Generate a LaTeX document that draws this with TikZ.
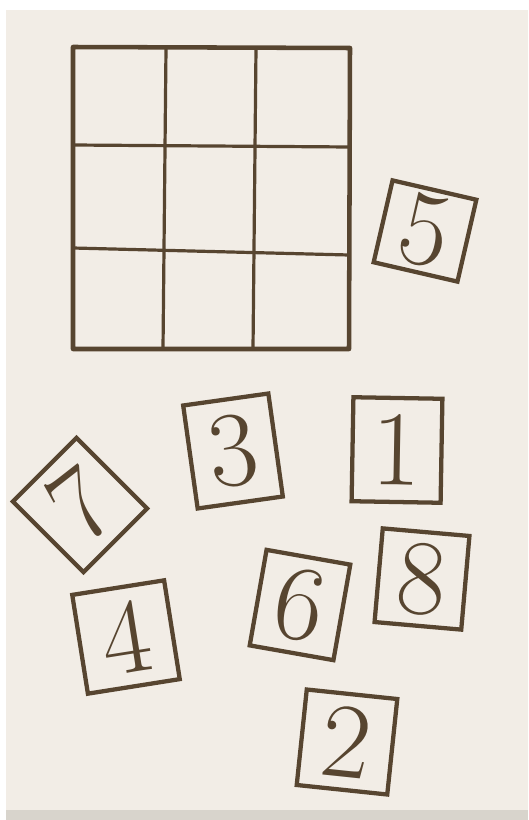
\documentclass[tikz,border=0pt]{standalone}
\definecolor{inkc}{HTML}{574530}
\definecolor{paper}{HTML}{F2EDE6}
\definecolor{strip}{HTML}{D8D4CC}
\begin{document}
\begin{tikzpicture}[x=0.75pt,y=-0.75pt,
  outerline/.style={draw=inkc, line width=3.4pt, line join=round, line cap=round},
  innerline/.style={draw=inkc, line width=2.4pt, line cap=round},
  digitfont/.style={text=inkc, font=\fontsize{80}{80}\selectfont},
  tile/.style={draw=inkc, line width=3.2pt, rectangle, inner sep=0pt, digitfont},
  tsz/.style 2 args={minimum width=#1*0.75pt, minimum height=#2*0.75pt}]
  % background / page
  \fill[white] (0,0) rectangle (528,820);
  \fill[paper] (6,10) rectangle (528,810);
  \fill[strip] (6,810) rectangle (528,820);
  \useasboundingbox (0,0) rectangle (528,820);

  % grid corners
  \coordinate (tl) at (73,47);
  \coordinate (tr) at (350,48);
  \coordinate (br) at (349,349);
  \coordinate (bl) at (73,349);
  \coordinate (v1t) at (166,48);  \coordinate (v1b) at (163,349);
  \coordinate (v2t) at (256,48);  \coordinate (v2b) at (253,349);
  \coordinate (h1l) at (73,145);  \coordinate (h1r) at (350,147);
  \coordinate (h2l) at (73,248);  \coordinate (h2r) at (349,255);

  \draw[innerline] (v1t) -- (v1b);
  \draw[innerline] (v2t) -- (v2b);
  \draw[innerline] (h1l) -- (h1r);
  \draw[innerline] (h2l) -- (h2r);
  \draw[outerline] (tl) -- (tr) -- (br) -- (bl) -- cycle;

  % tiles
  \node[tile, tsz={86}{84},  rotate=-13] (t5) at (425,231) {5};
  \node[tile, tsz={86}{104}, rotate=8]   (t3) at (233,451) {3};
  \node[tile, tsz={89}{104}, rotate=-1]  (t1) at (397,450) {1};
  \node[tile, tsz={87}{94},  rotate=-5]  (t8) at (422,579) {8};
  \node[tile, tsz={85}{97},  rotate=-10] (t6) at (300,605) {6};
  \node[tile, tsz={93}{100}, rotate=9]   (t4) at (126,637) {4};
  \node[tile, tsz={91}{96},  rotate=-6]  (t2) at (347,742) {2};
  \node[tile, tsz={90}{100}, rotate=45]  (t7) at (80,505)  {};
  \node[digitfont, inner sep=0pt, rotate=38] (d7) at (t7.center) {7};
\end{tikzpicture}
\end{document}
